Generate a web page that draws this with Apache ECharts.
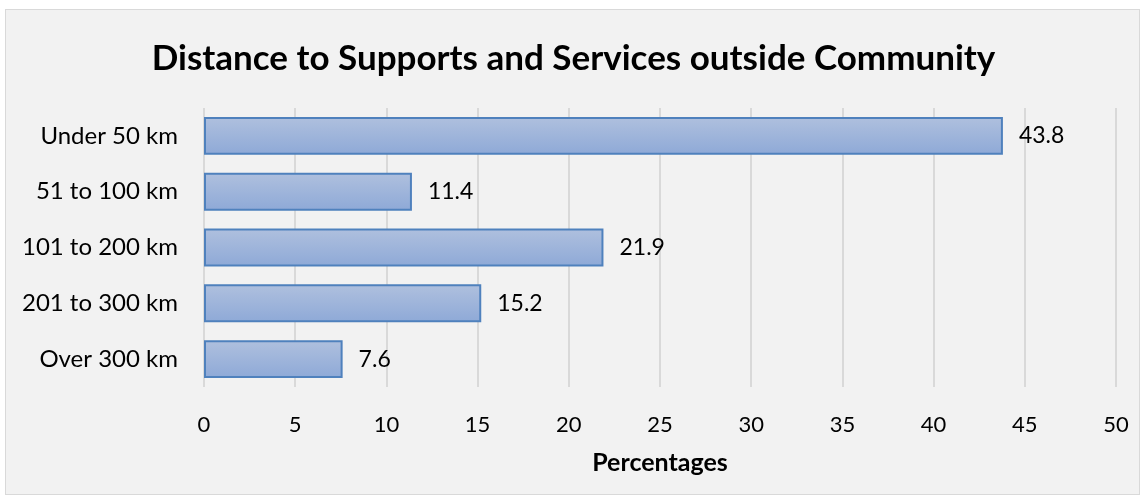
<!DOCTYPE html>
<html>
<head>
<meta charset="utf-8">
<script src="https://cdn.jsdelivr.net/npm/echarts@6/dist/echarts.min.js"></script>
<style>
  html, body { margin: 0; padding: 0; background: #ffffff; }
  #frame { position: absolute; left: 5px; top: 9px; width: 1135px; height: 486px;
           background: #f2f2f2; border: 1px solid #d9d9d9; box-sizing: border-box; }
  #chart { position: absolute; left: 0; top: 0; width: 1147px; height: 503px; }
</style>
</head>
<body>
<div id="frame"></div>
<div id="chart"></div>
<script>
// Distance categories, top to bottom
const categories = ['Under 50 km', '51 to 100 km', '101 to 200 km', '201 to 300 km', 'Over 300 km'];
// Share of respondents (%)
const percentages = [43.8, 11.4, 21.9, 15.2, 7.6];
// X axis range
const xTicks = { min: 0, max: 50, interval: 5 };

const FONT = 'Lato, "Open Sans", sans-serif';

const chart = echarts.init(document.getElementById('chart'), null, { renderer: 'canvas' });
chart.setOption({
  backgroundColor: 'transparent',
  animation: false,
  title: {
    text: 'Distance to Supports and Services outside Community',
    left: 'center',
    top: 36,
    textStyle: { fontFamily: FONT, fontSize: 35, fontWeight: 'bold', color: '#000000' }
  },
  grid: { left: 204, right: 31, top: 108, bottom: 116, containLabel: false },
  xAxis: {
    type: 'value',
    min: xTicks.min, max: xTicks.max, interval: xTicks.interval,
    name: 'Percentages',
    nameLocation: 'middle',
    nameGap: 63,
    nameTextStyle: { fontFamily: FONT, fontSize: 25, fontWeight: 'bold', color: '#000000' },
    axisLine: { show: false },
    axisTick: { show: false },
    axisLabel: { fontFamily: FONT, fontSize: 22, color: '#000000', margin: 27 },
    splitLine: { show: true, lineStyle: { color: '#d9d9d9', width: 2 } }
  },
  yAxis: {
    type: 'category',
    inverse: true,
    data: categories,
    axisLine: { show: false },
    axisTick: { show: false },
    axisLabel: { fontFamily: FONT, fontSize: 24, color: '#000000', margin: 26 }
  },
  series: [{
    type: 'bar',
    data: percentages,
    barWidth: '68%',
    itemStyle: {
      color: new echarts.graphic.LinearGradient(0, 0, 0, 1, [
        { offset: 0, color: '#afc0de' },
        { offset: 1, color: '#8ea9d7' }
      ]),
      borderColor: '#4f81bd',
      borderWidth: 2
    },
    label: {
      show: true,
      position: 'right',
      distance: 16,
      fontFamily: FONT,
      fontSize: 23,
      color: '#000000'
    }
  }]
});
</script>
</body>
</html>
